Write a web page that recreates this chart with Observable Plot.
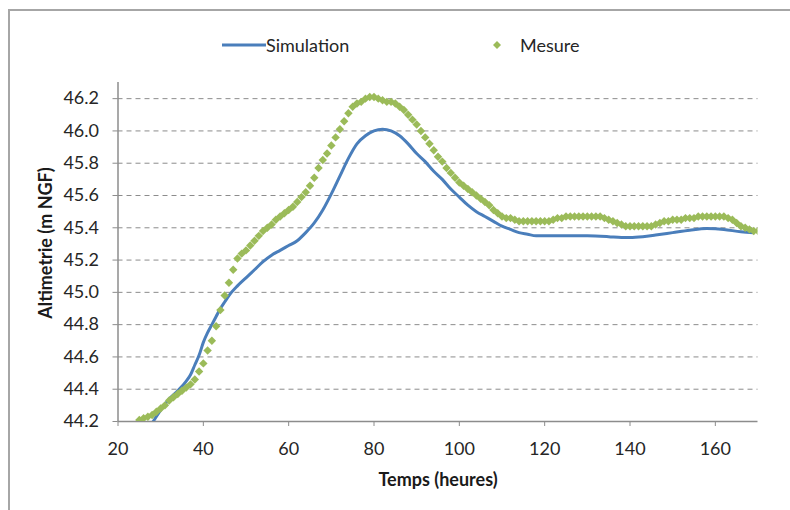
<!DOCTYPE html>
<html>
<head>
<meta charset="utf-8">
<script src="https://cdn.jsdelivr.net/npm/d3@7"></script>
<script src="https://cdn.jsdelivr.net/npm/@observablehq/plot@0.6"></script>
<style>
  html, body { margin: 0; padding: 0; background: #fff; }
  #wrap { position: relative; width: 790px; height: 510px; overflow: hidden; font-family: Lato, "Open Sans", sans-serif; }
  #frame { position: absolute; left: 8px; top: 9px; width: 800px; height: 520px; border-top: 2px solid #a6a6a6; border-left: 2px solid #a6a6a6; box-sizing: border-box; pointer-events: none; }
  #legend { position: relative; height: 60px; }
  .lg { position: absolute; font-size: 18px; color: #262626; top: 34px; line-height: 22px; }
  #chart svg { display: block; }
</style>
</head>
<body>
<div id="wrap">
  <div id="frame"></div>
  <div id="legend"></div>
  <div id="chart"></div>
</div>
<script>
// Series names
const seriesNames = ["Simulation", "Mesure"];

// Simulation (blue line): time (h) and altitude (m NGF)
const simTime = [27, 28, 30, 32, 34, 36, 37, 38, 39, 40, 41, 42, 43, 44, 45, 46, 48, 50, 52, 54, 56, 58, 60, 62, 64, 66, 68, 70, 72, 74, 76, 78, 80, 82, 84, 86, 88, 90, 92, 94, 96, 98, 100, 102, 104, 106, 108, 110, 112, 114, 116, 118, 120, 125, 130, 135, 138, 140, 143, 146, 150, 154, 158, 162, 166, 169];
const simValue = [44.15, 44.19, 44.27, 44.34, 44.39, 44.45, 44.49, 44.55, 44.61, 44.69, 44.75, 44.80, 44.85, 44.90, 44.94, 44.98, 45.04, 45.09, 45.14, 45.19, 45.23, 45.26, 45.29, 45.32, 45.37, 45.43, 45.51, 45.61, 45.72, 45.83, 45.92, 45.97, 46.00, 46.01, 46.00, 45.97, 45.92, 45.86, 45.81, 45.75, 45.70, 45.64, 45.59, 45.54, 45.50, 45.47, 45.44, 45.41, 45.39, 45.37, 45.36, 45.35, 45.35, 45.35, 45.35, 45.345, 45.34, 45.34, 45.345, 45.355, 45.37, 45.385, 45.395, 45.39, 45.375, 45.37];

// Mesure (green diamonds): hourly, from 25 h to 170 h
const mesTimeStart = 25;
const mesValue = [
  44.21, 44.22, 44.23, 44.24, 44.26, 44.28, 44.30, 44.33, 44.35, 44.37, // 25-34
  44.39, 44.41, 44.43, 44.46, 44.51, 44.56, 44.64, 44.70, 44.79, 44.89, // 35-44
  44.98, 45.06, 45.14, 45.21, 45.24, 45.26, 45.29, 45.32, 45.35, 45.38, // 45-54
  45.40, 45.42, 45.45, 45.47, 45.49, 45.51, 45.53, 45.56, 45.59, 45.62, // 55-64
  45.66, 45.71, 45.77, 45.82, 45.86, 45.91, 45.96, 46.01, 46.06, 46.11, // 65-74
  46.15, 46.17, 46.18, 46.20, 46.21, 46.21, 46.20, 46.19, 46.18, 46.18, // 75-84
  46.17, 46.15, 46.13, 46.10, 46.07, 46.04, 46.00, 45.96, 45.92, 45.88, // 85-94
  45.84, 45.81, 45.77, 45.74, 45.71, 45.68, 45.66, 45.64, 45.62, 45.60, // 95-104
  45.58, 45.56, 45.54, 45.51, 45.49, 45.47, 45.46, 45.46, 45.45, 45.44, // 105-114
  45.44, 45.44, 45.44, 45.44, 45.44, 45.44, 45.44, 45.45, 45.46, 45.46, // 115-124
  45.47, 45.47, 45.47, 45.47, 45.47, 45.47, 45.47, 45.47, 45.47, 45.46, // 125-134
  45.45, 45.44, 45.43, 45.42, 45.41, 45.41, 45.41, 45.41, 45.41, 45.41, // 135-144
  45.41, 45.42, 45.43, 45.44, 45.44, 45.45, 45.45, 45.45, 45.46, 45.46, // 145-154
  45.46, 45.47, 45.47, 45.47, 45.47, 45.47, 45.47, 45.47, 45.46, 45.45, // 155-164
  45.43, 45.41, 45.40, 45.39, 45.38, 45.38                              // 165-170
];

// Axis ticks and titles
const xTicks = [20, 40, 60, 80, 100, 120, 140, 160];
const yTicks = [44.2, 44.4, 44.6, 44.8, 45.0, 45.2, 45.4, 45.6, 45.8, 46.0, 46.2];
const xTitle = "Temps (heures)";
const yTitle = "Altimetrie (m NGF)";

const colors = { Simulation: "#4a7ebb", Mesure: "#9bbb59" };

const sim = simTime.map((t, i) => ({ t, v: simValue[i] }));
const mes = mesValue.map((v, i) => ({ t: mesTimeStart + i, v }));

// Legend (HTML, above the SVG)
const legend = document.getElementById("legend");
legend.innerHTML = `
  <svg style="position:absolute;left:222px;top:42px" width="44" height="6"><line x1="0" y1="3" x2="44" y2="3" stroke="${colors.Simulation}" stroke-width="3"/></svg>
  <span class="lg" style="left:266px">${seriesNames[0]}</span>
  <svg style="position:absolute;left:492px;top:40px" width="10" height="10"><path d="M5,1L9,5L5,9L1,5Z" fill="${colors.Mesure}"/></svg>
  <span class="lg" style="left:520px">${seriesNames[1]}</span>`;

const chart = Plot.plot({
  width: 790,
  height: 450,
  marginLeft: 117.5,
  marginRight: 32.5,
  marginTop: 22,
  marginBottom: 89,
  style: { fontFamily: "Lato, 'Open Sans', sans-serif", fontSize: "16px", color: "#262626", background: "transparent" },
  x: { domain: [20, 170] },
  y: { domain: [44.2, 46.3] },
  marks: [
    Plot.gridY(yTicks.slice(1), { stroke: "#8c8c8c", strokeOpacity: 1, strokeWidth: 1, strokeDasharray: "5,4" }),
    Plot.axisY({ ticks: yTicks, tickFormat: d3.format(".1f"), tickSize: 5, tickPadding: 14, fontSize: 18, label: null, stroke: "#8c8c8c", color: "#262626" }),
    Plot.axisX({ ticks: xTicks, tickFormat: d3.format("d"), tickSize: 5, tickPadding: 16, fontSize: 18, label: null, stroke: "#8c8c8c", color: "#262626" }),
    Plot.ruleX([20], { stroke: "#8c8c8c", strokeWidth: 1.5 }),
    Plot.ruleY([44.2], { stroke: "#8c8c8c", strokeWidth: 1.5 }),
    Plot.line(sim, { x: "t", y: "v", stroke: colors.Simulation, strokeWidth: 3, curve: "monotone-x", clip: true }),
    Plot.dot(mes, { x: "t", y: "v", symbol: "diamond2", r: 3.8, fill: colors.Mesure, stroke: "none", clip: true }),
    Plot.text([xTitle], { frameAnchor: "bottom", dy: 59, textAnchor: "middle", lineAnchor: "middle", fontWeight: "bold", fontSize: 18, fill: "#1a1a1a" }),
    Plot.text([yTitle], { frameAnchor: "left", dx: -72, dy: -9, textAnchor: "middle", lineAnchor: "middle", rotate: -90, fontWeight: "bold", fontSize: 18, fill: "#1a1a1a" })
  ]
});
document.getElementById("chart").appendChild(chart);
</script>
</body>
</html>
